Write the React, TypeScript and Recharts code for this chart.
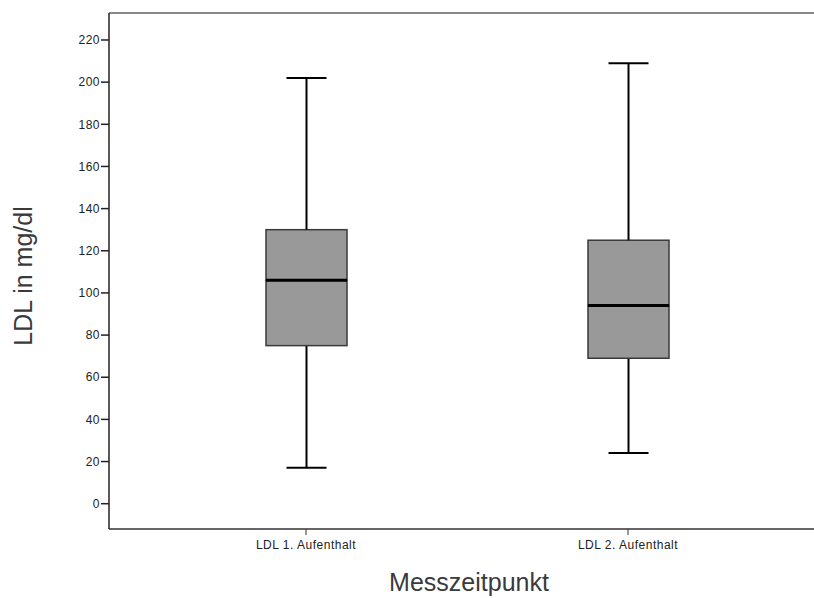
import { ComposedChart, Bar, XAxis, YAxis, ReferenceLine, Label } from "recharts";

const categories = ["LDL 1. Aufenthalt", "LDL 2. Aufenthalt"];
const minValues = [17, 24];
const q1Values = [75, 69];
const medianValues = [106, 94];
const q3Values = [130, 125];
const maxValues = [202, 209];
const yTicks = [0, 20, 40, 60, 80, 100, 120, 140, 160, 180, 200, 220];

const Y_MIN = -12;
const Y_MAX = 232.8;
const FONT = "'Liberation Sans', Arial, sans-serif";
const CAP = 40;

// stacked segments: invisible base, lower whisker, lower box, upper box, upper whisker
const chartData = categories.map((name, i) => ({
  name,
  base: minValues[i],
  lowWhisker: q1Values[i] - minValues[i],
  lowBox: medianValues[i] - q1Values[i],
  highBox: q3Values[i] - medianValues[i],
  highWhisker: maxValues[i] - q3Values[i],
}));

const LowWhisker = (props: any) => {
  const { x, y, width, height } = props;
  const cx = x + width / 2;
  return (
    <g>
      <line x1={cx} x2={cx} y1={y} y2={y + height} stroke="#000" strokeWidth={2} />
      <line x1={cx - CAP / 2} x2={cx + CAP / 2} y1={y + height} y2={y + height} stroke="#000" strokeWidth={2} />
    </g>
  );
};

const HighWhisker = (props: any) => {
  const { x, y, width, height } = props;
  const cx = x + width / 2;
  return (
    <g>
      <line x1={cx} x2={cx} y1={y} y2={y + height} stroke="#000" strokeWidth={2} />
      <line x1={cx - CAP / 2} x2={cx + CAP / 2} y1={y} y2={y} stroke="#000" strokeWidth={2} />
    </g>
  );
};

const LowBox = (props: any) => {
  const { x, y, width, height } = props;
  return <rect x={x} y={y} width={width} height={height} fill="#999999" stroke="#3a3a3a" strokeWidth={1.5} />;
};

const HighBox = (props: any) => {
  const { x, y, width, height } = props;
  return (
    <g>
      <rect x={x} y={y} width={width} height={height} fill="#999999" stroke="#3a3a3a" strokeWidth={1.5} />
      <line x1={x} x2={x + width} y1={y + height} y2={y + height} stroke="#000" strokeWidth={3} />
    </g>
  );
};

export default function App() {
  return (
    <div style={{ position: "absolute", left: 0, top: 0, background: "#fff" }}>
      <ComposedChart
        width={814}
        height={598}
        data={chartData}
        margin={{ top: 13, right: 0, bottom: 0, left: 0 }}
      >
        <XAxis
          dataKey="name"
          height={69}
          padding={{ left: 36, right: 25 }}
          axisLine={{ stroke: "#333", strokeWidth: 1.5 }}
          tickLine={{ stroke: "#333", strokeWidth: 1 }}
          tickSize={6}
          tickMargin={5}
          tick={{ fill: "#222", fontSize: 12, fontFamily: FONT, letterSpacing: 0.5 }}
          interval={0}
        >
          <Label
            content={({ viewBox }: any) => (
              <text
                x={469}
                y={viewBox.y + 62}
                textAnchor="middle"
                fill="#3a3a3a"
                fontSize={25}
                fontFamily={FONT}
              >
                Messzeitpunkt
              </text>
            )}
          />
        </XAxis>
        <YAxis
          type="number"
          width={109}
          domain={[Y_MIN, Y_MAX]}
          allowDataOverflow
          ticks={yTicks}
          interval={0}
          axisLine={{ stroke: "#222", strokeWidth: 1.5 }}
          tickLine={{ stroke: "#222", strokeWidth: 1.5 }}
          tickSize={8}
          tickMargin={1}
          tick={{ fill: "#222", fontSize: 12, fontFamily: FONT, letterSpacing: 0.5 }}
        >
          <Label
            content={({ viewBox }: any) => {
              const lx = 32;
              const ly = viewBox.y + viewBox.height / 2 + 5;
              return (
                <text
                  x={lx}
                  y={ly}
                  transform={`rotate(-90 ${lx} ${ly})`}
                  textAnchor="middle"
                  fill="#3a3a3a"
                  fontSize={25}
                  fontFamily={FONT}
                >
                  LDL in mg/dl
                </text>
              );
            }}
          />
        </YAxis>
        <ReferenceLine y={Y_MAX} stroke="#888" strokeWidth={2} />
        <Bar dataKey="base" stackId="box" barSize={81} fill="none" isAnimationActive={false} />
        <Bar dataKey="lowWhisker" stackId="box" barSize={81} shape={<LowWhisker />} isAnimationActive={false} />
        <Bar dataKey="lowBox" stackId="box" barSize={81} shape={<LowBox />} isAnimationActive={false} />
        <Bar dataKey="highBox" stackId="box" barSize={81} shape={<HighBox />} isAnimationActive={false} />
        <Bar dataKey="highWhisker" stackId="box" barSize={81} shape={<HighWhisker />} isAnimationActive={false} />
      </ComposedChart>
    </div>
  );
}
